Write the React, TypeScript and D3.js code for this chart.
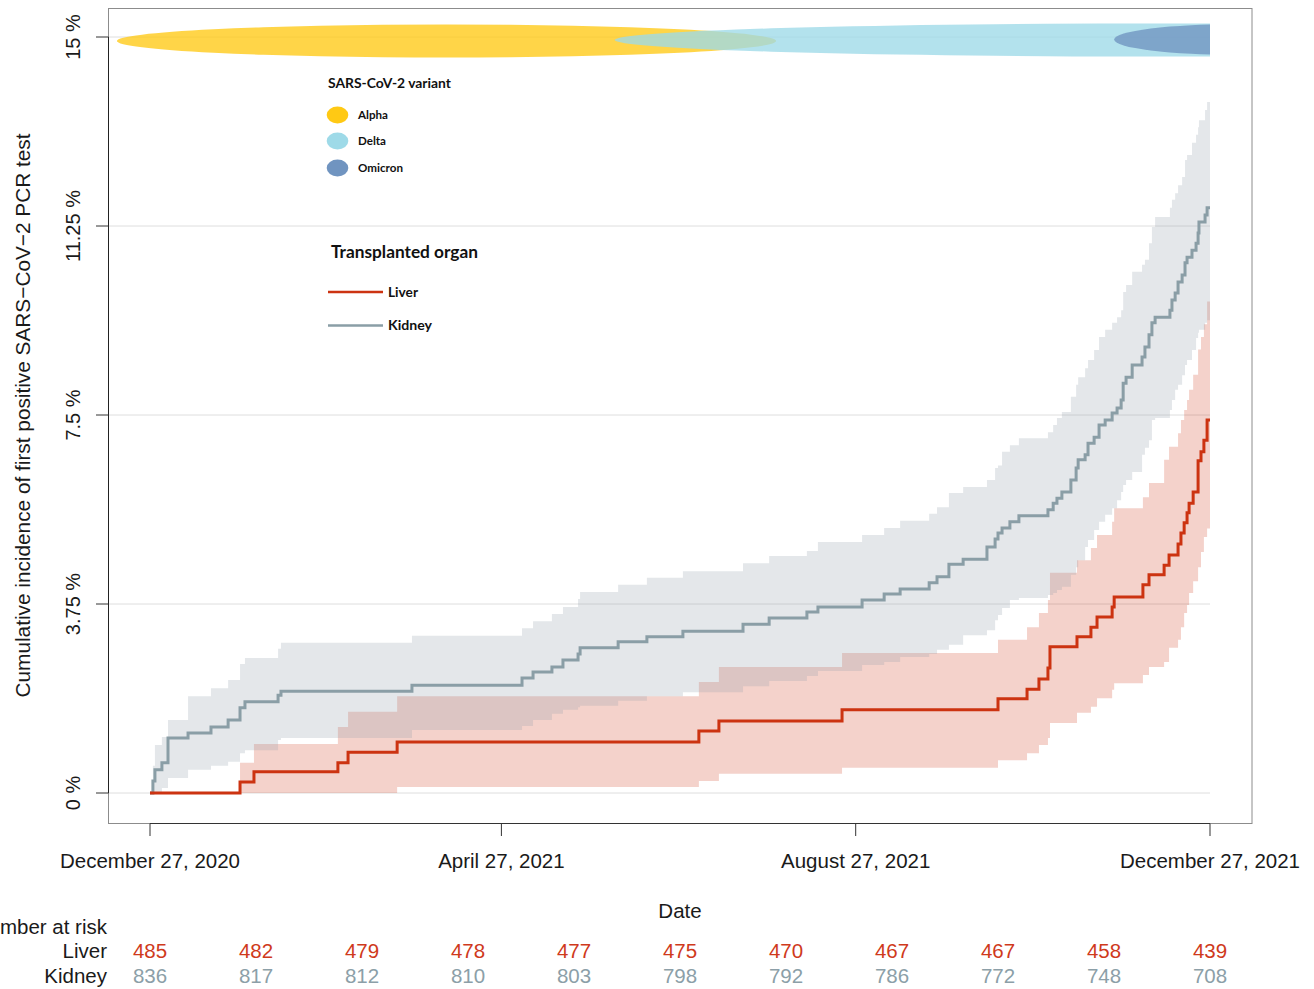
import React from "react";
import * as d3 from "d3";

// ---------- data ----------
const yTickValues = [0, 3.75, 7.5, 11.25, 15];
const yTickLabels = ["0 %", "3.75 %", "7.5 %", "11.25 %", "15 %"];
const xTickDays = [0, 121, 243, 365];
const xTickLabels = ["December 27, 2020", "April 27, 2021", "August 27, 2021", "December 27, 2021"];

const riskDays = [0, 36.5, 73, 109.5, 146, 182.5, 219, 255.5, 292, 328.5, 365];
const liverAtRisk = [485, 482, 479, 478, 477, 475, 470, 467, 467, 458, 439];
const kidneyAtRisk = [836, 817, 812, 810, 803, 798, 792, 786, 772, 748, 708];

const variantNames = ["Alpha", "Delta", "Omicron"];
const variantStartDay = [-11.4, 160, 332];
const variantEndDay = [215.6, 529, 418];
const variantColors = ["#FFC914", "#9EDAE8", "#7094C0"];

const kidneyDays = [0, 1.0, 1.7, 4.1, 6.2, 13.1, 21.0, 26.9, 31.0, 32.7, 44.1, 45.1, 90.2, 128.1, 131.9, 138.4, 142.2, 147.4, 148.1, 161.2, 171.1, 183.5, 204.2, 213.2, 226.2, 230.0, 245.2, 252.8, 258.3, 268.3, 271.0, 275.1, 280.0, 288.2, 291.0, 292.0, 293.4, 296.1, 299.2, 309.2, 311.0, 312.3, 314.0, 317.1, 318.9, 319.6, 322.0, 323.0, 325.1, 326.8, 328.9, 331.3, 333.0, 334.4, 335.1, 336.1, 338.2, 341.6, 342.6, 344.0, 345.0, 346.1, 351.2, 351.9, 353.0, 354.0, 355.4, 356.4, 357.1, 358.8, 360.2, 360.9, 361.2, 363.3, 364.0, 365];
const kidneyEst = [0, 0.24, 0.46, 0.60, 1.09, 1.19, 1.31, 1.45, 1.69, 1.81, 1.94, 2.02, 2.14, 2.28, 2.40, 2.50, 2.64, 2.76, 2.88, 3.00, 3.10, 3.21, 3.35, 3.47, 3.59, 3.69, 3.83, 3.95, 4.05, 4.17, 4.29, 4.54, 4.64, 4.88, 5.04, 5.16, 5.26, 5.38, 5.50, 5.62, 5.75, 5.85, 5.97, 6.21, 6.45, 6.61, 6.71, 6.94, 7.06, 7.30, 7.40, 7.54, 7.64, 7.80, 8.13, 8.25, 8.49, 8.65, 8.85, 9.09, 9.33, 9.44, 9.58, 9.78, 9.92, 10.14, 10.28, 10.52, 10.63, 10.77, 10.91, 11.11, 11.33, 11.47, 11.61, 11.61];
const kidneyLower = [0, 0, 0, 0.1, 0.3, 0.46, 0.54, 0.62, 0.79, 0.85, 1.05, 1.09, 1.25, 1.33, 1.45, 1.57, 1.65, 1.70, 1.73, 1.83, 1.92, 2.00, 2.12, 2.22, 2.32, 2.42, 2.54, 2.60, 2.70, 2.76, 2.84, 2.94, 3.13, 3.23, 3.43, 3.53, 3.67, 3.83, 3.87, 3.93, 3.97, 4.03, 4.09, 4.33, 4.48, 4.62, 4.88, 5.02, 5.22, 5.38, 5.52, 5.65, 5.81, 5.97, 6.11, 6.21, 6.37, 6.71, 6.85, 7.00, 7.40, 7.44, 7.60, 7.80, 8.00, 8.10, 8.29, 8.49, 8.59, 8.79, 9.03, 9.13, 9.19, 9.33, 9.38, 9.38];
const kidneyUpper = [0, 0.54, 0.95, 1.11, 1.45, 1.92, 2.08, 2.24, 2.56, 2.68, 2.86, 2.98, 3.12, 3.27, 3.41, 3.55, 3.69, 3.85, 3.99, 4.13, 4.27, 4.40, 4.56, 4.70, 4.80, 4.98, 5.12, 5.26, 5.40, 5.54, 5.67, 5.95, 6.07, 6.21, 6.45, 6.50, 6.77, 6.90, 7.04, 7.16, 7.30, 7.44, 7.56, 7.86, 8.10, 8.25, 8.43, 8.59, 8.79, 9.05, 9.19, 9.33, 9.44, 9.58, 9.94, 10.08, 10.34, 10.48, 10.58, 10.91, 11.23, 11.43, 11.61, 11.77, 11.90, 12.06, 12.22, 12.56, 12.66, 12.90, 13.06, 13.21, 13.35, 13.55, 13.71, 13.71];

const liverDays = [0, 31.0, 35.8, 64.7, 68.2, 85.1, 189.0, 195.9, 238.3, 292.0, 302.0, 306.1, 309.2, 309.9, 319.2, 324.0, 326.1, 331.3, 332.0, 341.9, 344.0, 349.2, 350.9, 354.0, 355.0, 356.1, 357.1, 357.8, 359.2, 360.9, 361.9, 362.9, 364.0, 365];
const liverEst = [0, 0.22, 0.42, 0.60, 0.81, 1.01, 1.23, 1.43, 1.65, 1.87, 2.06, 2.26, 2.48, 2.90, 3.10, 3.29, 3.49, 3.69, 3.89, 4.13, 4.33, 4.52, 4.72, 4.94, 5.16, 5.36, 5.56, 5.75, 5.97, 6.59, 6.77, 7.00, 7.40, 7.40];
const liverLower = [0, 0, 0, 0, 0, 0.12, 0.24, 0.38, 0.50, 0.65, 0.79, 0.95, 1.09, 1.39, 1.59, 1.71, 1.88, 2.05, 2.18, 2.34, 2.50, 2.60, 2.88, 3.04, 3.29, 3.57, 3.73, 3.97, 4.20, 4.48, 4.78, 5.08, 5.25, 5.25];
const liverUpper = [0, 0.60, 0.97, 1.31, 1.61, 1.92, 2.20, 2.50, 2.78, 3.04, 3.29, 3.57, 3.83, 4.37, 4.62, 4.86, 5.12, 5.38, 5.65, 5.87, 6.15, 6.61, 6.87, 7.14, 7.40, 7.60, 7.80, 8.00, 8.30, 8.80, 9.05, 9.30, 9.75, 9.75];

// ---------- layout ----------
const W = 1314;
const H = 989;
const FONT = "'Liberation Sans', Arial, Helvetica, sans-serif";
const LEGEND_FONT = "Lato, 'Open Sans', sans-serif";
const LIVER = "#CC3311";
const KIDNEY = "#8A9EA6";

const x = d3.scaleLinear().domain([0, 365]).range([150, 1210]);
const y = d3.scaleLinear().domain([0, 15]).range([793, 37]);

type Row = { d: number; e: number; lo: number; hi: number };
const rows = (days: number[], e: number[], lo: number[], hi: number[]): Row[] =>
  days.map((d, i) => ({ d, e: e[i], lo: lo[i], hi: hi[i] }));

const kidneyRows = rows(kidneyDays, kidneyEst, kidneyLower, kidneyUpper);
const liverRows = rows(liverDays, liverEst, liverLower, liverUpper);

const line = d3
  .line<Row>()
  .x((r) => x(r.d))
  .y((r) => y(r.e))
  .curve(d3.curveStepAfter);
const area = d3
  .area<Row>()
  .x((r) => x(r.d))
  .y0((r) => y(r.lo))
  .y1((r) => y(r.hi))
  .curve(d3.curveStepAfter);

export default function App() {
  const plotLeft = 108.5;
  const plotTop = 8.5;
  const plotRight = 1252;
  const plotBottom = 823.5;
  const rowLiverY = 958;
  const rowKidneyY = 983;

  return (
    <svg
      width={W}
      height={H}
      viewBox={`0 0 ${W} ${H}`}
      style={{ position: "absolute", left: 0, top: 0, background: "#fff" }}
      fontFamily={FONT}
    >
      <defs>
        <clipPath id="dataClip">
          <rect x={108} y={0} width={1210 - 108} height={830} />
        </clipPath>
      </defs>
      <rect x={0} y={0} width={W} height={H} fill="#fff" />

      {/* gridlines */}
      {yTickValues.map((v) => (
        <line key={"g" + v} x1={108} x2={1210} y1={y(v)} y2={y(v)} stroke="#DEDEDE" strokeWidth={1} />
      ))}

      {/* variant ellipses */}
      <g clipPath="url(#dataClip)">
        {variantNames.map((n, i) => {
          const x0 = x(variantStartDay[i]);
          const x1 = x(variantEndDay[i]);
          const cys = [41, 40, 39.5];
          const rys = [16.5, 16.5, 15.5];
          return (
            <ellipse
              key={n}
              cx={(x0 + x1) / 2}
              cy={cys[i]}
              rx={(x1 - x0) / 2}
              ry={rys[i]}
              fill={variantColors[i]}
              fillOpacity={0.78}
            />
          );
        })}
      </g>

      {/* confidence bands */}
      <path d={area(liverRows) || ""} fill={LIVER} fillOpacity={0.22} />
      <path d={area(kidneyRows) || ""} fill="#939FAB" fillOpacity={0.25} />

      {/* curves */}
      <path d={line(kidneyRows) || ""} fill="none" stroke={KIDNEY} strokeWidth={3} />
      <path d={line(liverRows) || ""} fill="none" stroke={LIVER} strokeWidth={3} />

      {/* frame */}
      <rect
        x={plotLeft}
        y={plotTop}
        width={plotRight - plotLeft}
        height={plotBottom - plotTop}
        fill="none"
        stroke="#8C8C8C"
        strokeWidth={1}
      />
      {/* y axis */}
      <line x1={plotLeft} x2={plotLeft} y1={y(15)} y2={y(0)} stroke="#222" strokeWidth={1} />
      {yTickValues.map((v, i) => (
        <g key={"yt" + v}>
          <line x1={96} x2={plotLeft} y1={y(v)} y2={y(v)} stroke="#333" strokeWidth={1} />
          <text
            transform={`translate(80,${y(v)}) rotate(-90)`}
            textAnchor="middle"
            fontSize={20}
            fill="#1a1a1a"
          >
            {yTickLabels[i]}
          </text>
        </g>
      ))}
      <text
        transform={`translate(29.5,${(8 + 823) / 2}) rotate(-90)`}
        textAnchor="middle"
        fontSize={20.8}
        fill="#1a1a1a"
      >
        Cumulative incidence of first positive SARS−CoV−2 PCR test
      </text>

      {/* x axis */}
      <line x1={x(0)} x2={x(365)} y1={plotBottom} y2={plotBottom} stroke="#333" strokeWidth={1} />
      {xTickDays.map((d, i) => (
        <g key={"xt" + d}>
          <line x1={x(d)} x2={x(d)} y1={plotBottom} y2={836} stroke="#333" strokeWidth={1} />
          <text x={x(d)} y={868} textAnchor="middle" fontSize={20.5} fill="#1a1a1a">
            {xTickLabels[i]}
          </text>
        </g>
      ))}
      <text x={680} y={918} textAnchor="middle" fontSize={20.5} fill="#1a1a1a">
        Date
      </text>

      {/* number at risk */}
      <text x={107} y={934} textAnchor="end" fontSize={20.5} fill="#1a1a1a">
        Number at risk
      </text>
      <text x={107} y={rowLiverY} textAnchor="end" fontSize={20.5} fill="#1a1a1a">
        Liver
      </text>
      <text x={107} y={rowKidneyY} textAnchor="end" fontSize={20.5} fill="#1a1a1a">
        Kidney
      </text>
      {riskDays.map((d, i) => (
        <g key={"r" + i}>
          <text x={x(d)} y={rowLiverY} textAnchor="middle" fontSize={20.5} fill="#CF3A1C">
            {liverAtRisk[i]}
          </text>
          <text x={x(d)} y={rowKidneyY} textAnchor="middle" fontSize={20.5} fill="#8C9FA8">
            {kidneyAtRisk[i]}
          </text>
        </g>
      ))}

      {/* legends */}
      <g fontFamily={LEGEND_FONT} fontWeight="bold" fill="#111">
        <text x={328} y={88} fontSize={14} textLength={123} lengthAdjust="spacingAndGlyphs">
          SARS-CoV-2 variant
        </text>
        {variantNames.map((n, i) => {
          const cy = [115, 141, 168][i];
          const widths = [30, 28, 45];
          return (
            <g key={"lv" + n}>
              <ellipse cx={337.5} cy={cy} rx={10.8} ry={8.5} fill={variantColors[i]} />
              <text x={358} y={cy + 4} fontSize={12} textLength={widths[i]} lengthAdjust="spacingAndGlyphs">
                {n}
              </text>
            </g>
          );
        })}
        <text x={331} y={258} fontSize={16.5} textLength={147} lengthAdjust="spacingAndGlyphs">
          Transplanted organ
        </text>
        <line x1={328} x2={383} y1={292} y2={292} stroke={LIVER} strokeWidth={2.5} />
        <text x={388} y={297} fontSize={14} textLength={30} lengthAdjust="spacingAndGlyphs">
          Liver
        </text>
        <line x1={328} x2={383} y1={325.5} y2={325.5} stroke={KIDNEY} strokeWidth={2.5} />
        <text x={388} y={330} fontSize={14} textLength={44} lengthAdjust="spacingAndGlyphs">
          Kidney
        </text>
      </g>
    </svg>
  );
}
